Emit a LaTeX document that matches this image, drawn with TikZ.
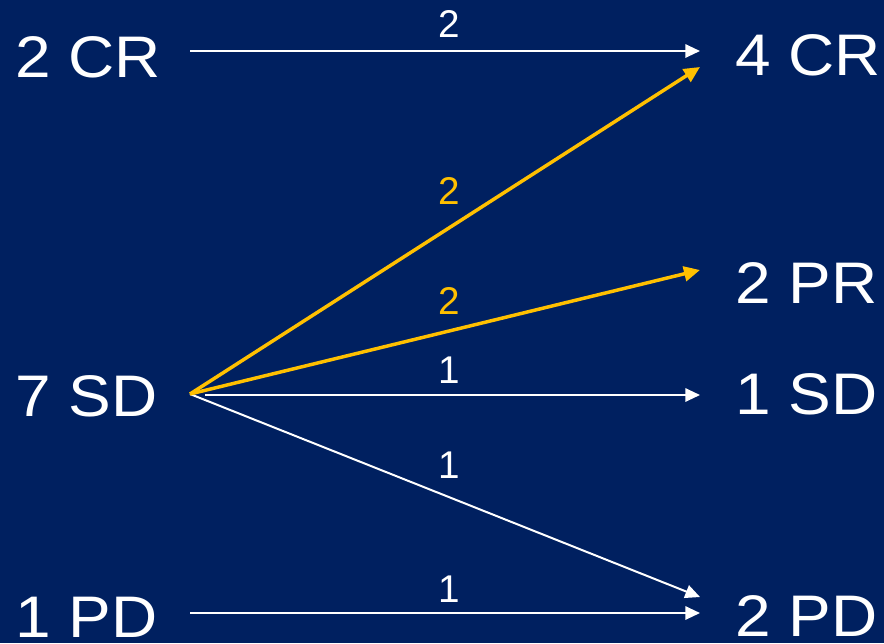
\documentclass[tikz,border=0pt]{standalone}
\usepackage{fontspec}
\setmainfont{Liberation Sans}
\newfontfamily\bigfont[FakeStretch=1.09]{Liberation Sans}
\usetikzlibrary{arrows.meta}
\definecolor{navy}{HTML}{002060}
\definecolor{gold}{HTML}{FFC000}
\begin{document}
\begin{tikzpicture}[x=0.75pt,y=-0.75pt,
  big/.style={text=white,font=\bigfont\fontsize{44}{44}\selectfont,inner sep=0pt,anchor=base west},
  lbl/.style={font=\fontsize{29}{29}\selectfont,inner sep=0pt,anchor=base},
  wlbl/.style={lbl,text=white},
  ylbl/.style={lbl,text=gold},
  wline/.style={draw=white,line width=1.5pt,-{Triangle[length=11pt,width=10pt]}},
  yline/.style={draw=gold,line width=2.6pt,-{Triangle[length=12pt,width=11pt]}}]
\fill[navy] (0,0) rectangle (884,643);
\useasboundingbox (0,0) rectangle (884,643);
% left nodes
\node[big] (L1) at (15,77) {2 CR};
\node[big] (L2) at (15,416) {7 SD};
\node[big] (L3) at (15,637) {1 PD};
% right nodes
\node[big] (R1) at (735,75) {4 CR};
\node[big] (R2) at (735,303) {2 PR};
\node[big] (R3) at (735,414) {1 SD};
\node[big] (R4) at (735,636) {2 PD};
% connector end points
\coordinate (s1) at (190,51);
\coordinate (s2) at (190,394);
\coordinate (s2h) at (205,395);
\coordinate (s3) at (190,613);
\coordinate (e1) at (700,51);
\coordinate (e1y) at (700,67);
\coordinate (e2) at (700,270);
\coordinate (e3) at (700,395);
\coordinate (e4d) at (700,597);
\coordinate (e4) at (700,613);
% connectors
\draw[wline] (s1) -- (e1);
\draw[wline] (s2h) -- (e3);
\draw[wline] (s2) -- (e4d);
\draw[wline] (s3) -- (e4);
\draw[yline] (s2) -- (e1y);
\draw[yline] (s2) -- (e2);
% labels
\node[wlbl] (n1) at (449,37) {2};
\node[ylbl] (n2) at (449,204) {2};
\node[ylbl] (n3) at (449,314) {2};
\node[wlbl] (n4) at (449,383) {1};
\node[wlbl] (n5) at (449,478) {1};
\node[wlbl] (n6) at (449,602) {1};
\end{tikzpicture}
\end{document}
